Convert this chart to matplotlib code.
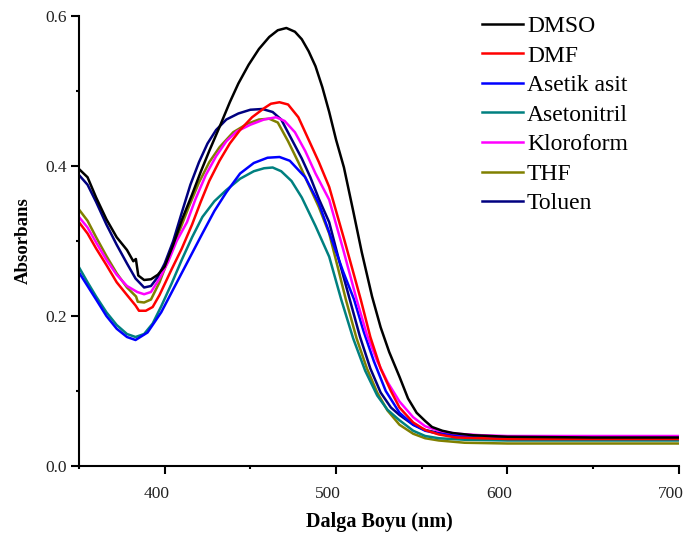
import matplotlib
matplotlib.use("Agg")
import matplotlib.pyplot as plt
from matplotlib.ticker import MultipleLocator
from matplotlib.transforms import ScaledTranslation

plt.rcParams['font.family'] = ['Liberation Serif', 'DejaVu Serif']

# values (wavelength nm, absorbance)
dmso_x = [350, 355, 360, 366, 372, 378, 381.7, 383.2, 384.6, 388, 392, 396, 400, 405, 410, 416, 421,
          426, 432, 438, 443, 449, 455, 461, 466, 471, 476, 480, 484, 488, 492, 496, 500, 504.6,
          510, 515, 521, 526, 531, 537, 542, 547, 552, 556, 562, 568, 580, 600, 650, 700]
dmso_y = [0.396, 0.385, 0.358, 0.329, 0.305, 0.288, 0.273, 0.276, 0.254, 0.248, 0.249, 0.255, 0.266,
          0.295, 0.328, 0.362, 0.392, 0.42, 0.452, 0.485, 0.51, 0.535, 0.556, 0.572, 0.581, 0.584,
          0.579, 0.569, 0.553, 0.533, 0.505, 0.472, 0.435, 0.398, 0.34, 0.285, 0.226, 0.185, 0.152,
          0.119, 0.09, 0.071, 0.06, 0.052, 0.047, 0.044, 0.041, 0.039, 0.038, 0.038]

dmf_x = [350, 355, 360, 366, 372, 378, 383, 385, 389, 393, 397, 404, 410, 416, 421, 426, 432, 438,
         444, 451, 458, 462, 467, 472, 478, 483, 490, 496, 505, 514.4, 520, 526, 532, 537, 545,
         552, 560, 570, 585, 600, 700]
dmf_y = [0.325, 0.31, 0.29, 0.268, 0.245, 0.228, 0.214, 0.207, 0.207, 0.212, 0.228, 0.262, 0.29,
         0.322, 0.352, 0.38, 0.407, 0.43, 0.448, 0.465, 0.477, 0.483, 0.485, 0.482, 0.465, 0.44,
         0.405, 0.372, 0.3, 0.222, 0.172, 0.13, 0.1, 0.078, 0.058, 0.048, 0.042, 0.038, 0.037,
         0.036, 0.036]

asetik_x = [350, 355, 360, 366, 372, 378, 383, 390, 398, 406, 414, 422, 429, 436, 444, 452, 460,
            467, 473, 482, 490, 497, 504, 510.5, 516, 522, 529, 537, 545, 552, 560, 575, 600, 700]
asetik_y = [0.258, 0.24, 0.222, 0.2, 0.183, 0.172, 0.168, 0.178, 0.205, 0.24, 0.275, 0.31, 0.34,
            0.365, 0.39, 0.404, 0.411, 0.412, 0.407, 0.385, 0.35, 0.305, 0.26, 0.222, 0.18, 0.14,
            0.1, 0.071, 0.055, 0.047, 0.043, 0.04, 0.039, 0.038]

asetonitril_x = [350, 355, 360, 366, 372, 378, 383, 388, 393, 398, 404, 410, 416, 422, 429, 436,
                 444, 452, 458, 463, 468, 474, 480, 488, 496, 503, 510, 517, 524, 530, 537, 545,
                 552, 560, 575, 600, 700]
asetonitril_y = [0.265, 0.245, 0.226, 0.205, 0.188, 0.176, 0.172, 0.176, 0.19, 0.213, 0.243, 0.275,
                 0.305, 0.332, 0.353, 0.368, 0.383, 0.393, 0.397, 0.398, 0.393, 0.38, 0.358, 0.32,
                 0.279, 0.222, 0.17, 0.127, 0.094, 0.075, 0.061, 0.047, 0.04, 0.037, 0.035, 0.034,
                 0.034]

kloroform_x = [350, 355, 360, 366, 372, 378, 384, 388, 392, 397, 402, 407, 413, 418, 424, 430, 436,
               442, 450, 458, 465, 470, 476, 482, 488, 496, 504, 512, 518, 524, 530, 537, 545, 552,
               560, 570, 585, 600, 700]
kloroform_y = [0.332, 0.318, 0.298, 0.275, 0.255, 0.24, 0.232, 0.229, 0.232, 0.25, 0.272, 0.3,
               0.325, 0.356, 0.388, 0.413, 0.433, 0.446, 0.455, 0.462, 0.465, 0.46, 0.445, 0.42,
               0.39, 0.355, 0.29, 0.222, 0.175, 0.14, 0.112, 0.086, 0.065, 0.053, 0.047, 0.043,
               0.041, 0.04, 0.04]

thf_x = [350, 355, 360, 366, 372, 378, 383.3, 384.3, 388, 392, 397, 402, 408, 414, 420, 426, 432,
         440, 448, 455, 461, 466, 472, 478, 484, 490, 496, 501, 505.7, 512, 518, 524, 530, 537,
         545, 552, 560, 575, 600, 700]
thf_y = [0.342, 0.327, 0.305, 0.28, 0.257, 0.238, 0.226, 0.219, 0.218, 0.222, 0.245, 0.275, 0.31,
         0.345, 0.378, 0.405, 0.425, 0.445, 0.456, 0.462, 0.463, 0.458, 0.433, 0.405, 0.375,
         0.345, 0.31, 0.265, 0.222, 0.17, 0.13, 0.098, 0.074, 0.055, 0.043, 0.037, 0.034, 0.031,
         0.03, 0.03]

toluen_x = [350, 355, 360, 366, 372, 378, 383, 388, 392, 396, 400, 405, 410, 415, 420, 425, 430,
            436, 443, 450, 457, 463, 468, 474, 480, 485, 490, 496, 502, 508, 514, 520, 526, 532,
            537, 545, 552, 560, 570, 585, 600, 700]
toluen_y = [0.388, 0.375, 0.352, 0.322, 0.295, 0.27, 0.25, 0.238, 0.24, 0.252, 0.27, 0.3, 0.338,
            0.375, 0.405, 0.43, 0.448, 0.462, 0.47, 0.475, 0.476, 0.472, 0.462, 0.436, 0.41,
            0.385, 0.356, 0.325, 0.272, 0.222, 0.172, 0.13, 0.098, 0.078, 0.068, 0.055, 0.048,
            0.044, 0.041, 0.04, 0.039, 0.039]

fig = plt.figure(figsize=(6.85, 5.33), dpi=100)
ax = fig.add_axes([0.1153, 0.1257, 0.8757, 0.8443])

lw = 1.8
ax.plot(toluen_x, toluen_y, color='#000080', lw=lw, label='Toluen', zorder=2)
ax.plot(thf_x, thf_y, color='#808000', lw=lw, label='THF', zorder=2)
ax.plot(asetonitril_x, asetonitril_y, color='#008080', lw=lw, label='Asetonitril', zorder=2)
ax.plot(asetik_x, asetik_y, color='#0000FF', lw=lw, label='Asetik asit', zorder=2)
ax.plot(kloroform_x, kloroform_y, color='#FF00FF', lw=lw, label='Kloroform', zorder=2)
ax.plot(dmf_x, dmf_y, color='#FF0000', lw=lw, label='DMF', zorder=2)
ax.plot(dmso_x, dmso_y, color='black', lw=lw, label='DMSO', zorder=3)

ax.set_xlim(350, 700)
ax.set_ylim(0, 0.6)
ax.spines['top'].set_visible(False)
ax.spines['right'].set_visible(False)
for s in ['left', 'bottom']:
    ax.spines[s].set_linewidth(1.5)

ax.xaxis.set_major_locator(MultipleLocator(100))
ax.xaxis.set_minor_locator(MultipleLocator(50))
ax.yaxis.set_major_locator(MultipleLocator(0.2))
ax.yaxis.set_minor_locator(MultipleLocator(0.1))
ax.tick_params(which='major', direction='out', length=5.5, width=1.5, labelsize=12.5, labelcolor='#222222')
ax.tick_params(which='minor', direction='out', length=2.4, width=1.5)
ax.tick_params(axis='x', which='major', pad=9)
ax.tick_params(axis='y', which='major', pad=3)

# x tick labels sit a little left of their ticks in the original
shift = ScaledTranslation(-8 / 100, 0, fig.dpi_scale_trans)
for lab in ax.get_xticklabels():
    lab.set_transform(lab.get_transform() + shift)

ax.set_xlabel('Dalga Boyu (nm)', fontsize=14.5, fontweight='bold', labelpad=7)
ax.set_ylabel('Absorbans', fontsize=13.5, fontweight='bold', labelpad=10)

handles, labels = ax.get_legend_handles_labels()
order = ['DMSO', 'DMF', 'Asetik asit', 'Asetonitril', 'Kloroform', 'THF', 'Toluen']
hmap = dict(zip(labels, handles))
ax.legend([hmap[k] for k in order], order, loc='upper left', bbox_to_anchor=(0.656, 1.022),
          frameon=False, fontsize=17, handlelength=1.74, handletextpad=0.17, labelspacing=0.34,
          borderaxespad=0)

fig.savefig('out.png', dpi=100)
